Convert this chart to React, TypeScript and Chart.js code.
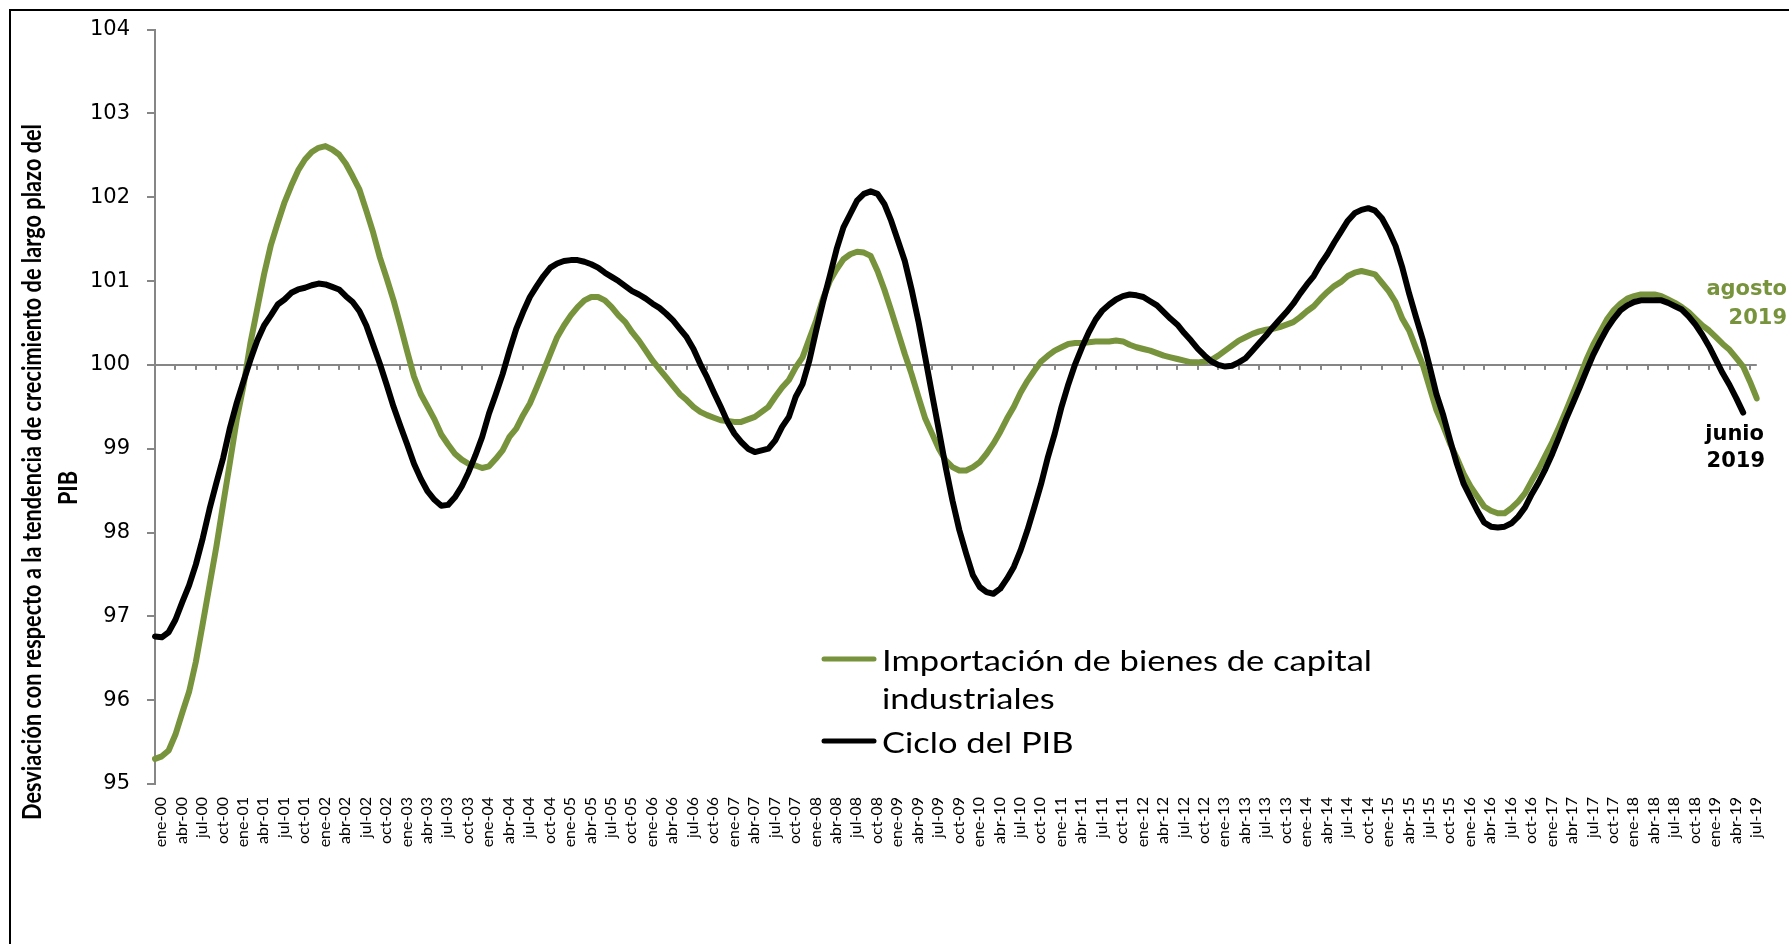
import React, { useEffect, useRef } from 'react';
import { Chart, registerables } from 'chart.js';

Chart.register(...registerables);

// ---------- DATA ----------
const MONTHS = ['ene', 'feb', 'mar', 'abr', 'may', 'jun', 'jul', 'ago', 'sep', 'oct', 'nov', 'dic'];
const YEARS = ['00', '01', '02', '03', '04', '05', '06', '07', '08', '09', '10', '11', '12', '13', '14', '15', '16', '17', '18', '19'];
const LAST_MONTH_COUNT = 236; // ene-00 .. ago-19
const CATEGORIES: string[] = YEARS.flatMap((y) => MONTHS.map((m) => `${m}-${y}`)).slice(0, LAST_MONTH_COUNT);

const Y_TICKS = [95, 96, 97, 98, 99, 100, 101, 102, 103, 104];

// Importación de bienes de capital industriales (ene-00 .. ago-19)
const IMPORTACION = [
  95.30, 95.33, 95.40, 95.59, 95.85, 96.10, 96.46, 96.91, 97.37, 97.83, 98.34, 98.84,
  99.35, 99.76, 100.26, 100.67, 101.08, 101.43, 101.69, 101.94, 102.14, 102.32, 102.45, 102.54,
  102.59, 102.61, 102.57, 102.51, 102.40, 102.25, 102.09, 101.84, 101.58, 101.28, 101.03, 100.77,
  100.47, 100.16, 99.86, 99.65, 99.50, 99.35, 99.17, 99.05, 98.94, 98.87, 98.82, 98.80,
  98.77, 98.79, 98.88, 98.98, 99.14, 99.24, 99.40, 99.54, 99.73, 99.93, 100.13, 100.33,
  100.47, 100.59, 100.69, 100.77, 100.81, 100.81, 100.77, 100.69, 100.59, 100.51, 100.39, 100.29,
  100.17, 100.05, 99.95, 99.85, 99.75, 99.65, 99.58, 99.50, 99.44, 99.40, 99.37, 99.34,
  99.33, 99.32, 99.32, 99.35, 99.38, 99.44, 99.50, 99.62, 99.73, 99.82, 99.97, 100.09,
  100.31, 100.53, 100.79, 101.00, 101.14, 101.26, 101.32, 101.35, 101.34, 101.30, 101.12, 100.90,
  100.65, 100.39, 100.13, 99.89, 99.62, 99.36, 99.18, 99.00, 98.86, 98.78, 98.74, 98.74,
  98.78, 98.84, 98.94, 99.06, 99.20, 99.36, 99.50, 99.67, 99.81, 99.93, 100.04, 100.11,
  100.17, 100.21, 100.25, 100.26, 100.26, 100.27, 100.28, 100.28, 100.28, 100.29, 100.28, 100.24,
  100.21, 100.19, 100.17, 100.14, 100.11, 100.09, 100.07, 100.05, 100.03, 100.03, 100.04, 100.06,
  100.11, 100.17, 100.23, 100.29, 100.33, 100.37, 100.40, 100.42, 100.43, 100.45, 100.48, 100.51,
  100.57, 100.64, 100.70, 100.79, 100.87, 100.94, 100.99, 101.06, 101.10, 101.12, 101.10, 101.08,
  100.98, 100.88, 100.75, 100.55, 100.41, 100.20, 100.00, 99.73, 99.46, 99.27, 99.06, 98.89,
  98.70, 98.55, 98.43, 98.31, 98.26, 98.23, 98.23, 98.29, 98.37, 98.47, 98.62, 98.76,
  98.92, 99.08, 99.26, 99.45, 99.65, 99.85, 100.06, 100.24, 100.39, 100.54, 100.65, 100.73,
  100.79, 100.82, 100.84, 100.84, 100.84, 100.82, 100.78, 100.74, 100.69, 100.63, 100.55, 100.47,
  100.41, 100.33, 100.25, 100.18, 100.08, 99.98, 99.80, 99.60,
];

// Ciclo del PIB (ene-00 .. jun-19)
const CICLO_PIB = [
  96.76, 96.75, 96.81, 96.96, 97.17, 97.37, 97.62, 97.93, 98.28, 98.59, 98.89, 99.25,
  99.55, 99.81, 100.06, 100.29, 100.47, 100.59, 100.72, 100.78, 100.86, 100.90, 100.92, 100.95,
  100.97, 100.96, 100.93, 100.90, 100.82, 100.75, 100.64, 100.47, 100.24, 100.01, 99.76, 99.50,
  99.27, 99.05, 98.82, 98.64, 98.49, 98.39, 98.32, 98.33, 98.42, 98.55, 98.72, 98.92,
  99.14, 99.42, 99.65, 99.89, 100.17, 100.43, 100.63, 100.81, 100.94, 101.06, 101.16, 101.21,
  101.24, 101.25, 101.25, 101.23, 101.20, 101.16, 101.10, 101.05, 101.00, 100.94, 100.88, 100.84,
  100.79, 100.73, 100.68, 100.61, 100.53, 100.43, 100.33, 100.19, 100.01, 99.85, 99.67, 99.50,
  99.32, 99.18, 99.08, 99.00, 98.96, 98.98, 99.00, 99.10, 99.26, 99.38, 99.62, 99.77,
  100.05, 100.41, 100.75, 101.06, 101.38, 101.64, 101.80, 101.96, 102.04, 102.07, 102.04, 101.92,
  101.72, 101.48, 101.24, 100.90, 100.52, 100.09, 99.65, 99.22, 98.78, 98.38, 98.03, 97.75,
  97.49, 97.35, 97.29, 97.27, 97.33, 97.45, 97.59, 97.79, 98.03, 98.30, 98.58, 98.90,
  99.18, 99.50, 99.77, 100.01, 100.21, 100.39, 100.54, 100.65, 100.72, 100.78, 100.82, 100.84,
  100.83, 100.81, 100.76, 100.71, 100.63, 100.55, 100.48, 100.38, 100.29, 100.19, 100.11, 100.04,
  100.00, 99.98, 99.99, 100.03, 100.08, 100.17, 100.26, 100.35, 100.45, 100.54, 100.63, 100.73,
  100.85, 100.96, 101.06, 101.20, 101.32, 101.46, 101.59, 101.72, 101.81, 101.85, 101.87, 101.84,
  101.75, 101.60, 101.42, 101.16, 100.85, 100.57, 100.30, 99.98, 99.65, 99.40, 99.10, 98.82,
  98.58, 98.42, 98.26, 98.12, 98.07, 98.06, 98.07, 98.11, 98.19, 98.30, 98.46, 98.60,
  98.76, 98.94, 99.14, 99.35, 99.54, 99.73, 99.93, 100.12, 100.28, 100.43, 100.55, 100.65,
  100.71, 100.75, 100.77, 100.77, 100.77, 100.77, 100.74, 100.70, 100.66, 100.58, 100.48, 100.36,
  100.22, 100.06, 99.90, 99.76, 99.60, 99.43,
];

const SERIES_NAMES = ['Importación de bienes de capital', 'industriales', 'Ciclo del PIB'];
const Y_TITLE = ['Desviación con respecto a la tendencia de crecimiento de largo plazo del', 'PIB'];
const END_LABEL_GREEN = ['agosto', '2019'];
const END_LABEL_BLACK = ['junio', '2019'];

// ---------- STYLE ----------
const GREEN = '#77933C';
const BLACK = '#000000';
const AXIS_GRAY = '#868686';
const W = 1789;
const H = 944;

const decorPlugin = {
  id: 'decor',
  beforeDraw(chart: any) {
    const ctx = chart.ctx;
    ctx.save();
    ctx.fillStyle = '#ffffff';
    ctx.fillRect(0, 0, W, H);
    ctx.fillStyle = '#000000';
    ctx.fillRect(9, 9, W, 2);
    ctx.fillRect(9, 9, 2, H);
    ctx.restore();
  },
  beforeDatasetsDraw(chart: any) {
    const ctx = chart.ctx;
    const xs = chart.scales.x;
    const ys = chart.scales.y;
    const y100 = ys.getPixelForValue(100);
    ctx.save();
    ctx.fillStyle = AXIS_GRAY;
    for (let i = 3; i < CATEGORIES.length; i += 3) {
      const px = xs.getPixelForValue(i);
      ctx.fillRect(Math.round(px) - 1, y100, 2, 5);
    }
    ctx.restore();
  },
  afterDraw(chart: any) {
    const ctx = chart.ctx;
    ctx.save();
    // Y axis title (rotated, two lines)
    ctx.font = 'bold 27px Lato';
    ctx.fillStyle = '#000';
    ctx.textAlign = 'center';
    ctx.textBaseline = 'alphabetic';
    const w1 = ctx.measureText(Y_TITLE[0]).width;
    const sx = 696 / w1;
    ctx.save();
    ctx.translate(41, 472);
    ctx.rotate(-Math.PI / 2);
    ctx.scale(sx, 1);
    ctx.fillText(Y_TITLE[0], 0, 0);
    ctx.restore();
    ctx.save();
    ctx.translate(77, 488);
    ctx.rotate(-Math.PI / 2);
    ctx.scale(sx, 1);
    ctx.fillText(Y_TITLE[1], 0, 0);
    ctx.restore();

    // Legend
    ctx.lineCap = 'round';
    ctx.lineWidth = 5;
    ctx.strokeStyle = GREEN;
    ctx.beginPath();
    ctx.moveTo(824, 659);
    ctx.lineTo(874, 659);
    ctx.stroke();
    ctx.strokeStyle = BLACK;
    ctx.beginPath();
    ctx.moveTo(824, 741);
    ctx.lineTo(874, 741);
    ctx.stroke();
    ctx.font = '29px Lato';
    ctx.fillStyle = '#000';
    ctx.textAlign = 'left';
    const lw = ctx.measureText(SERIES_NAMES[0]).width;
    const lsx = 490 / lw;
    const drawLegendText = (t: string, x: number, y: number) => {
      ctx.save();
      ctx.translate(x, y);
      ctx.scale(lsx, 1);
      ctx.fillText(t, 0, 0);
      ctx.restore();
    };
    drawLegendText(SERIES_NAMES[0], 882, 671);
    drawLegendText(SERIES_NAMES[1], 882, 709);
    drawLegendText(SERIES_NAMES[2], 882, 753);

    // End labels
    ctx.font = 'bold 21px "DejaVu Sans"';
    ctx.textAlign = 'right';
    ctx.fillStyle = GREEN;
    ctx.fillText(END_LABEL_GREEN[0], 1787, 295);
    ctx.fillText(END_LABEL_GREEN[1], 1787, 324);
    ctx.fillStyle = BLACK;
    ctx.fillText(END_LABEL_BLACK[0], 1764, 440);
    ctx.fillText(END_LABEL_BLACK[1], 1765, 467);
    ctx.restore();
  },
};

export default function App() {
  const canvasRef = useRef<HTMLCanvasElement | null>(null);

  useEffect(() => {
    const canvas = canvasRef.current;
    if (!canvas) return;
    const chart = new Chart(canvas, {
      type: 'line',
      data: {
        labels: CATEGORIES,
        datasets: [
          {
            label: 'Ciclo del PIB',
            data: CICLO_PIB,
            borderColor: BLACK,
            backgroundColor: BLACK,
            borderWidth: 6,
            pointRadius: 0,
            tension: 0,
            borderJoinStyle: 'round',
            borderCapStyle: 'round',
            fill: false,
            order: 0,
          },
          {
            label: 'Importación de bienes de capital industriales',
            data: IMPORTACION,
            borderColor: GREEN,
            backgroundColor: GREEN,
            borderWidth: 6,
            pointRadius: 0,
            tension: 0,
            borderJoinStyle: 'round',
            borderCapStyle: 'round',
            fill: false,
            order: 1,
          },
        ],
      },
      options: {
        responsive: false,
        animation: false,
        devicePixelRatio: 1,
        layout: { padding: { left: 0, top: 28, right: 22, bottom: 0 } },
        plugins: {
          legend: { display: false },
          title: { display: false },
          tooltip: { enabled: false },
        },
        scales: {
          x: {
            type: 'category',
            offset: false,
            grid: { display: false, drawTicks: false },
            border: { display: false },
            ticks: {
              autoSkip: false,
              minRotation: 90,
              maxRotation: 90,
              padding: 13,
              labelOffset: 6,
              color: '#000',
              font: { family: 'Lato', size: 16 },
              callback: (_v: any, i: number) => (i % 3 === 0 ? CATEGORIES[i] : ''),
            },
            afterFit: (s: any) => {
              s.height = 160;
            },
          },
          y: {
            min: Y_TICKS[0],
            max: Y_TICKS[Y_TICKS.length - 1],
            afterBuildTicks: (s: any) => {
              s.ticks = Y_TICKS.map((v) => ({ value: v }));
            },
            grid: {
              color: (c: any) => (c.tick && c.tick.value === 100 ? AXIS_GRAY : 'rgba(0,0,0,0)'),
              lineWidth: 2,
              tickColor: AXIS_GRAY,
              tickLength: 8,
              tickWidth: 2,
              drawTicks: true,
            },
            border: { display: true, color: AXIS_GRAY, width: 2 },
            ticks: {
              padding: 17,
              color: '#000',
              font: { family: '"DejaVu Sans"', size: 21 },
              callback: (v: any) => String(v),
            },
            afterFit: (s: any) => {
              s.width = 155;
            },
          },
        },
      },
      plugins: [decorPlugin],
    });
    return () => chart.destroy();
  }, []);

  return (
    <div style={{ position: 'fixed', left: 0, top: 0, width: W, height: H, overflow: 'hidden', background: '#fff' }}>
      <canvas ref={canvasRef} width={W} height={H} style={{ display: 'block', width: W, height: H }} />
    </div>
  );
}
